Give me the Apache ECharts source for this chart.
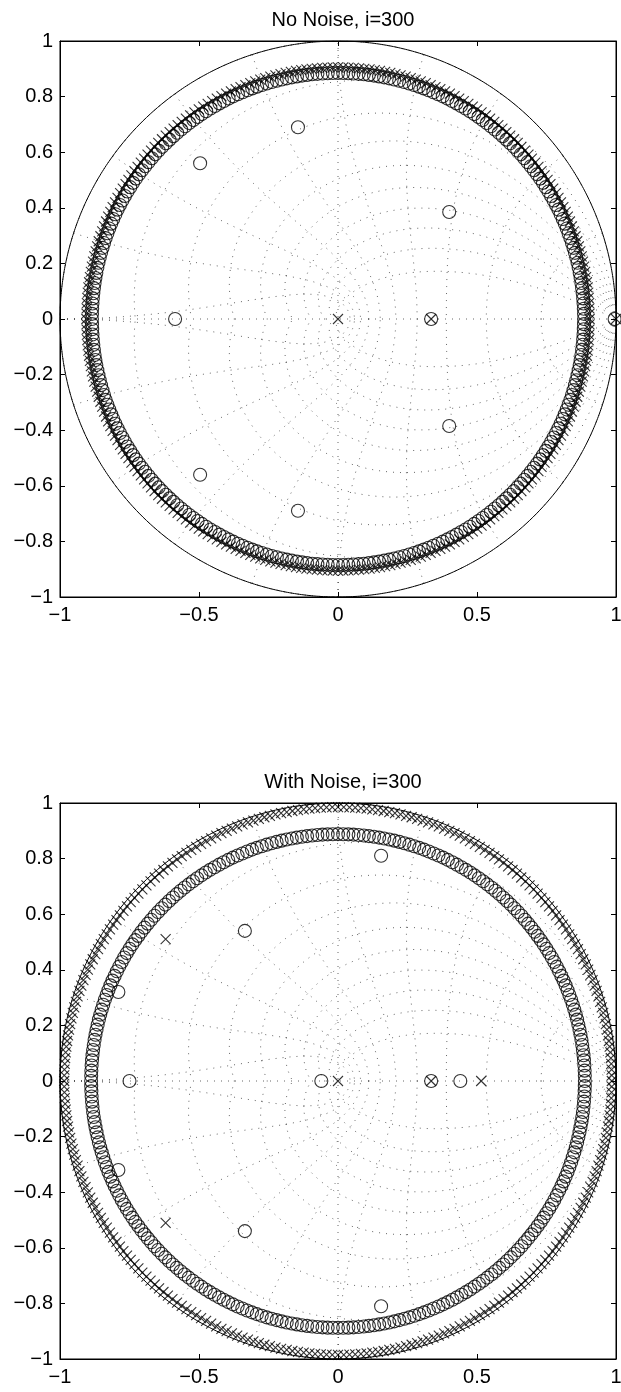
<!DOCTYPE html>
<html><head><meta charset="utf-8">
<script src="https://cdn.jsdelivr.net/npm/echarts@6/dist/echarts.min.js"></script>
<style>html,body{margin:0;padding:0;background:#fff}#c{width:621px;height:1392px}</style>
</head><body><div id="c"></div>
<script>
// ---- data ----
const titles = ['No Noise, i=300', 'With Noise, i=300'];
const xTickValues = [-1, -0.5, 0, 0.5, 1];
const xTickLabels = ['\u22121', '\u22120.5', '0', '0.5', '1'];
const yTickValues = [-1, -0.8, -0.6, -0.4, -0.2, 0, 0.2, 0.4, 0.6, 0.8, 1];
const yTickLabels = ['\u22121', '\u22120.8', '\u22120.6', '\u22120.4', '\u22120.2', '0', '0.2', '0.4', '0.6', '0.8', '1'];

// isolated zeros (o) and poles (x), [re, im]
const topZeros = [[-0.586, 0], [-0.496, 0.56], [-0.496, -0.56], [-0.144, 0.69], [-0.144, -0.69],
                  [0.40, 0.385], [0.40, -0.385], [0.335, 0], [0.995, 0]];
const topPoles = [[0, 0], [0.335, 0], [1.0, 0]];
const bottomZeros = [[0.155, 0.81], [0.155, -0.81], [-0.335, 0.54], [-0.335, -0.54],
                     [-0.79, 0.32], [-0.79, -0.32], [-0.75, 0], [-0.06, 0], [0.335, 0], [0.44, 0]];
const bottomPoles = [[0, 0], [0.335, 0], [0.515, 0], [-0.62, 0.51], [-0.62, -0.51]];

// rings of roots: radius and number of roots
const topZeroRingRadius = 0.885, topZeroRingCount = 300;
const topPoleRingRadius = 0.905, topPoleRingCount = 300;
const bottomZeroRingRadius = 0.888, bottomZeroRingCount = 300;
const bottomPoleRingRadius = 0.985, bottomPoleRingCount = 300;

// z-plane grid (zgrid) parameters
const gridZeta = [0, 0.1, 0.2, 0.3, 0.4, 0.5, 0.6, 0.7, 0.8, 0.9];
const gridWn = [0.1, 0.2, 0.3, 0.4, 0.5, 0.6, 0.7, 0.8, 0.9, 1.0];

// ---- construction ----
function ring(r, n) {
  const pts = [];
  for (let k = 0; k < n; k++) {
    const a = 2 * Math.PI * k / n;
    pts.push([r * Math.cos(a), r * Math.sin(a)]);
  }
  return pts;
}
function unitCircle() {
  const pts = [];
  for (let k = 0; k <= 720; k++) {
    const a = 2 * Math.PI * k / 720;
    pts.push([Math.cos(a), Math.sin(a)]);
  }
  return pts;
}
function zgridLines() {
  const lines = [];
  lines.push({coords: [[-1, 0], [1, 0]]});
  lines.push({coords: [[0, -1], [0, 1]]});
  gridZeta.forEach(z => {
    const m = z / Math.sqrt(1 - z * z);
    [1, -1].forEach(sg => {
      const c = [];
      for (let k = 0; k <= 80; k++) {
        const w = Math.PI * k / 80;
        const r = Math.exp(-m * w);
        c.push([r * Math.cos(w), sg * r * Math.sin(w)]);
      }
      lines.push({coords: c});
    });
  });
  gridWn.forEach(wn => {
    [1, -1].forEach(sg => {
      const c = [];
      for (let k = 0; k <= 60; k++) {
        const th = Math.PI / 2 + (Math.PI / 2) * k / 60;
        const re = wn * Math.PI * Math.cos(th), im = wn * Math.PI * Math.sin(th);
        const r = Math.exp(re);
        c.push([r * Math.cos(im), sg * r * Math.sin(im)]);
      }
      lines.push({coords: c});
    });
  });
  return lines;
}

const FONT = 'Liberation Sans';
const L = 60, S = 556, tops = [41, 803];
const xPath = 'path://M0,0L10,10M10,0L0,10';

const chart = echarts.init(document.getElementById('c'), null, {renderer: 'canvas'});
const option = {
  backgroundColor: '#fff',
  animation: false,
  title: tops.map((t, i) => ({
    text: titles[i], left: L + S / 2, top: t - 36, textAlign: 'center',
    textStyle: {fontFamily: FONT, fontSize: 20, fontWeight: 'normal', color: '#000'}
  })),
  grid: tops.map(t => ({left: L, top: t, width: S, height: S, show: true,
    borderColor: '#000', borderWidth: 1, outerBoundsMode: 'none', containLabel: false})),
  xAxis: [],
  yAxis: [],
  series: []
};
const labelFmt = (vals, labs) => v => {
  const i = vals.findIndex(t => Math.abs(t - v) < 1e-9);
  return i >= 0 ? labs[i] : '';
};
tops.forEach((t, g) => {
  ['bottom', 'top'].forEach((pos, j) => {
    option.xAxis.push({
      type: 'value', gridIndex: g, position: pos, min: -1, max: 1, interval: 0.5,
      axisLine: {show: true, onZero: false, lineStyle: {color: '#000', width: 1}},
      axisTick: {show: true, inside: true, length: 5, lineStyle: {color: '#000'}},
      axisLabel: {show: j === 0, margin: 8, color: '#000', fontFamily: FONT, fontSize: 20,
        formatter: labelFmt(xTickValues, xTickLabels)},
      splitLine: {show: false}
    });
  });
  ['left', 'right'].forEach((pos, j) => {
    option.yAxis.push({
      type: 'value', gridIndex: g, position: pos, min: -1, max: 1, interval: 0.2,
      axisLine: {show: true, onZero: false, lineStyle: {color: '#000', width: 1}},
      axisTick: {show: true, inside: true, length: 5, lineStyle: {color: '#000'}},
      axisLabel: {show: j === 0, margin: 7, color: '#000', fontFamily: FONT, fontSize: 20,
        formatter: labelFmt(yTickValues, yTickLabels)},
      splitLine: {show: false}
    });
  });
});
const zeroStyle = {color: 'rgba(0,0,0,0)', borderColor: '#000', borderWidth: 1.1};
const poleStyle = {color: 'rgba(0,0,0,0)', borderColor: '#000', borderWidth: 1.1};
const sets = [
  {zeros: topZeros, poles: topPoles, zr: [topZeroRingRadius, topZeroRingCount], pr: [topPoleRingRadius, topPoleRingCount]},
  {zeros: bottomZeros, poles: bottomPoles, zr: [bottomZeroRingRadius, bottomZeroRingCount], pr: [bottomPoleRingRadius, bottomPoleRingCount]}
];
sets.forEach((s, g) => {
  const xi = 2 * g, yi = 2 * g;
  option.series.push({
    type: 'lines', coordinateSystem: 'cartesian2d', xAxisIndex: xi, yAxisIndex: yi,
    polyline: true, silent: true, data: zgridLines(),
    lineStyle: {color: '#000', width: 1, type: [1, 6], opacity: 0.6}
  });
  option.series.push({
    type: 'line', xAxisIndex: xi, yAxisIndex: yi, data: unitCircle(), showSymbol: false,
    symbol: 'none', silent: true, lineStyle: {color: '#000', width: 1}
  });
  option.series.push({
    type: 'scatter', xAxisIndex: xi, yAxisIndex: yi, data: ring(s.zr[0], s.zr[1]).concat(s.zeros),
    symbol: 'circle', symbolSize: 13, itemStyle: zeroStyle, silent: true, clip: false
  });
  option.series.push({
    type: 'scatter', xAxisIndex: xi, yAxisIndex: yi, data: ring(s.pr[0], s.pr[1]).concat(s.poles),
    symbol: xPath, symbolSize: 10, itemStyle: poleStyle, silent: true, clip: false
  });
});
chart.setOption(option);
</script></body></html>
